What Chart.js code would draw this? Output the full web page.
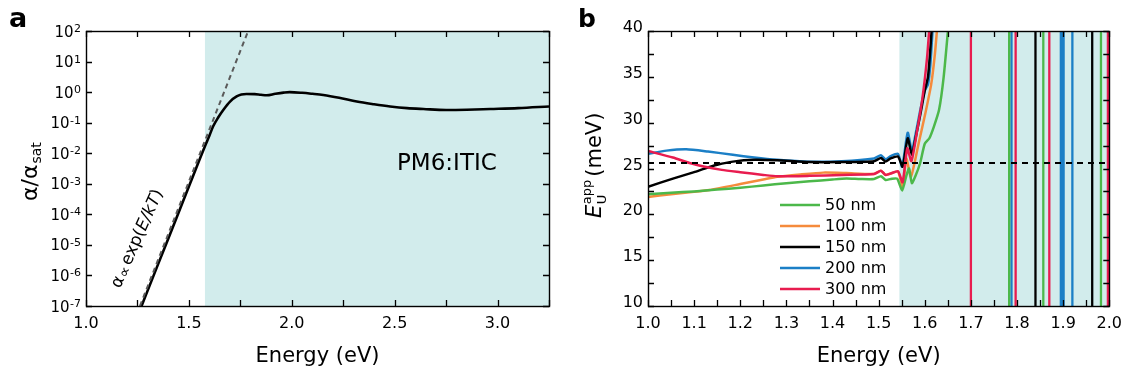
<!DOCTYPE html>
<html><head><meta charset="utf-8">
<script src="https://cdn.jsdelivr.net/npm/chart.js@4.4.1/dist/chart.umd.min.js"></script>
<style>
html,body{margin:0;padding:0;background:#fff;width:1130px;height:377px;overflow:hidden}
.p{position:absolute;top:0;width:565px;height:377px}
#pa{left:0}#pb{left:565px}
</style></head><body>
<div class="p" id="pa"><canvas id="ca" width="565" height="377"></canvas></div>
<div class="p" id="pb"><canvas id="cb" width="565" height="377"></canvas></div>
<script>
// ================= DATA : panel a =================
const energyA = [1.27, 1.35, 1.43, 1.50, 1.55, 1.578, 1.60, 1.618, 1.643, 1.667, 1.70, 1.732, 1.755, 1.78, 1.82, 1.85, 1.878, 1.92, 1.96, 1.99, 2.05, 2.10, 2.153, 2.23, 2.316, 2.40, 2.478, 2.56, 2.64, 2.75, 2.85, 2.964, 3.10, 3.25];
const alphaA  = [1.0e-7, 2.3e-6, 5.2e-5, 8.1e-4, 5.8e-3, 0.017, 0.038, 0.076, 0.15, 0.26, 0.49, 0.72, 0.83, 0.87, 0.86, 0.82, 0.79, 0.88, 0.96, 1.0, 0.95, 0.88, 0.80, 0.65, 0.49, 0.40, 0.34, 0.30, 0.28, 0.26, 0.265, 0.28, 0.30, 0.34];
const fitEnergyA = [1.262, 1.788];
const fitAlphaA  = [1e-7, 1e2];
const xTicksA = [1.0, 1.5, 2.0, 2.5, 3.0];
const yTicksA = [1e2, 1e1, 1e0, 1e-1, 1e-2, 1e-3, 1e-4, 1e-5, 1e-6, 1e-7];
const shadeStartA = 1.578;
const sampleLabelA = 'PM6:ITIC';

// ================= DATA : panel b =================
const thicknessLabels = ['50 nm', '100 nm', '150 nm', '200 nm', '300 nm'];
const energy50  = [1.00,1.05,1.10,1.15,1.20,1.25,1.30,1.35,1.40,1.43,1.46,1.49,1.505,1.515,1.526,1.54,1.551,1.56,1.566,1.572,1.58,1.59,1.60,1.61,1.62,1.631,1.641,1.652];
const eu50      = [22.2,22.35,22.5,22.7,22.9,23.15,23.4,23.6,23.8,23.9,23.85,23.85,24.15,23.75,23.85,23.9,22.6,24.2,25.0,23.4,24.2,25.6,27.7,28.3,29.6,31.4,35.0,41.0];
const energy100 = [1.00,1.05,1.10,1.133,1.20,1.25,1.28,1.33,1.38,1.43,1.49,1.505,1.515,1.526,1.542,1.552,1.56,1.57,1.587,1.602,1.614,1.622,1.628];
const eu100     = [21.9,22.2,22.45,22.65,23.3,23.8,24.1,24.35,24.55,24.5,24.4,24.75,24.3,24.45,24.65,23.0,26.1,24.1,27.8,31.2,34.2,37.5,41.0];
const energy150 = [1.00,1.054,1.10,1.123,1.15,1.184,1.23,1.28,1.35,1.42,1.49,1.505,1.515,1.526,1.542,1.552,1.563,1.572,1.58,1.59,1.60,1.607,1.612,1.616];
const eu150     = [23.0,23.9,24.6,25.0,25.4,25.75,25.95,25.9,25.7,25.7,25.8,26.15,25.75,26.1,26.3,25.2,28.3,26.5,28.3,30.8,33.5,35.0,38.0,41.0];
const energy200 = [1.00,1.04,1.083,1.13,1.184,1.23,1.28,1.35,1.42,1.49,1.505,1.515,1.526,1.542,1.551,1.563,1.572,1.58,1.59,1.60,1.607,1.612,1.618];
const eu200     = [26.6,26.95,27.1,26.85,26.5,26.2,25.95,25.75,25.8,26.1,26.45,26.0,26.35,26.6,25.2,28.9,26.9,28.7,31.3,33.5,34.2,36.3,41.0];
const energy300 = [1.00,1.054,1.09,1.123,1.16,1.20,1.25,1.28,1.35,1.42,1.49,1.505,1.515,1.526,1.542,1.552,1.562,1.571,1.583,1.595,1.605,1.611];
const eu300     = [26.9,26.2,25.6,25.2,24.85,24.6,24.3,24.15,24.2,24.3,24.4,24.75,24.3,24.45,24.7,23.5,27.2,25.8,29.0,32.7,37.1,41.0];
// energies where the apparent Urbach energy diverges (off-scale up and down)
const spikes50  = [1.783, 1.857, 1.982];
const spikes100 = [];
const spikes150 = [1.840, 1.963];
const spikes200 = [1.788, 1.895, 1.898, 1.901, 1.920, 1.999];
const spikes300 = [1.700, 1.797, 1.870, 1.997];
const offScaleHigh = 1000;
const offScaleLow = -1000;
const kTmeV = 25.6;
const xTicksB = [1.0, 1.1, 1.2, 1.3, 1.4, 1.5, 1.6, 1.7, 1.8, 1.9, 2.0];
const yTicksB = [10, 15, 20, 25, 30, 35, 40];
const shadeStartB = 1.545;

// ================= STYLE =================
const FONT = "'DejaVu Sans', sans-serif";
const SHADE = '#d2ecec';
const seriesColors = ['#4cb84a', '#f58b3c', '#000000', '#1b7fc6', '#e81c4f'];
Chart.defaults.font.family = FONT;
Chart.defaults.color = '#000';

function pts(xs, ys) { return xs.map((x, i) => ({x: x, y: ys[i]})); }
function spikePts(es) {
  const out = [];
  es.forEach(e => { out.push({x: e, y: offScaleLow}, {x: e, y: offScaleHigh}, {x: e, y: null}); });
  return out;
}

function frameTicks(chart, xStep, yMinorVals, L) {
  const ctx = chart.ctx, a = chart.chartArea, xs = chart.scales.x, ys = chart.scales.y;
  ctx.save();
  ctx.strokeStyle = '#000';
  ctx.lineWidth = 1.3;
  ctx.beginPath();
  for (let k = 0; ; k++) {
    const v = xs.min + k * xStep;
    if (v > xs.max + 1e-9) break;
    const px = Math.round(xs.getPixelForValue(v)) + 0.5;
    ctx.moveTo(px, a.bottom); ctx.lineTo(px, a.bottom - L);
    ctx.moveTo(px, a.top); ctx.lineTo(px, a.top + L);
  }
  yMinorVals.forEach(v => {
    const py = Math.round(ys.getPixelForValue(v)) + 0.5;
    ctx.moveTo(a.left, py); ctx.lineTo(a.left + L, py);
    ctx.moveTo(a.right, py); ctx.lineTo(a.right - L, py);
  });
  ctx.stroke();
  ctx.lineWidth = 1.4;
  ctx.strokeRect(Math.round(a.left) + 0.5, Math.round(a.top) + 0.5, Math.round(a.right - a.left), Math.round(a.bottom - a.top));
  ctx.restore();
}

function shade(chart, start) {
  const ctx = chart.ctx, a = chart.chartArea, xs = chart.scales.x;
  const x0 = xs.getPixelForValue(start);
  ctx.save();
  ctx.fillStyle = SHADE;
  ctx.fillRect(x0, a.top, a.right - x0, a.bottom - a.top);
  ctx.restore();
}

// ================= PANEL A =================
const pluginA = {
  id: 'panelA',
  beforeDatasetsDraw(chart) { shade(chart, shadeStartA); },
  afterDatasetsDraw(chart) {
    frameTicks(chart, 0.25, yTicksA, 6);
  },
  afterDraw(chart) {
    const ctx = chart.ctx, a = chart.chartArea, ys = chart.scales.y;
    ctx.save();
    ctx.fillStyle = '#000';
    // log tick labels 10^n
    yTicksA.forEach(v => {
      const py = ys.getPixelForValue(v);
      const ex = String(Math.round(Math.log10(v)));
      ctx.font = '11px ' + FONT;
      ctx.textAlign = 'right'; ctx.textBaseline = 'alphabetic';
      const ew = ctx.measureText(ex).width;
      const xr = a.left - 5;
      ctx.fillText(ex, xr, py + 1);
      ctx.font = '15px ' + FONT;
      ctx.fillText('10', xr - ew - 0.5, py + 5.5);
    });
    // y title alpha/alpha_sat
    ctx.translate(37, 201);
    ctx.rotate(-Math.PI / 2);
    ctx.textAlign = 'left';
    ctx.font = '22px ' + FONT;
    ctx.fillText('α/α', 0, 0);
    const w = ctx.measureText('α/α').width;
    ctx.font = '14px ' + FONT;
    ctx.fillText('sat', w + 1, 4);
    ctx.setTransform(1, 0, 0, 1, 0, 0);
    // rotated exp annotation
    ctx.translate(120, 289);
    ctx.rotate(-66 * Math.PI / 180);
    ctx.font = '17px ' + FONT;
    let x = 0;
    ctx.fillText('α', x, 0); x += ctx.measureText('α').width + 1;
    ctx.font = '15px ' + FONT;
    ctx.fillText('∝', x, 2); x += ctx.measureText('∝').width + 2;
    ctx.font = '17px ' + FONT;
    ctx.fillText('exp(', x, 0); x += ctx.measureText('exp(').width;
    ctx.font = 'italic 17px ' + FONT;
    ctx.fillText('E/kT', x, 0); x += ctx.measureText('E/kT').width;
    ctx.font = '17px ' + FONT;
    ctx.fillText(')', x, 0);
    ctx.setTransform(1, 0, 0, 1, 0, 0);
    // sample label
    ctx.font = '23px ' + FONT;
    ctx.fillText(sampleLabelA, 397, 170);
    // panel letter
    ctx.font = 'bold 27px ' + FONT;
    ctx.fillText('a', 9, 27);
    ctx.restore();
  }
};

new Chart(document.getElementById('ca'), {
  type: 'line',
  data: {
    datasets: [
      { label: 'fit', data: pts(fitEnergyA, fitAlphaA), borderColor: '#5a5a5a', borderWidth: 2, borderDash: [5, 4], pointRadius: 0, tension: 0 },
      { label: 'PM6:ITIC', data: pts(energyA, alphaA), borderColor: '#000', borderWidth: 2.6, pointRadius: 0, cubicInterpolationMode: 'monotone' }
    ]
  },
  options: {
    responsive: false, animation: false, events: [],
    layout: { padding: { left: 0, right: 16, top: 31, bottom: 0 } },
    plugins: { legend: { display: false }, tooltip: { enabled: false } },
    scales: {
      x: {
        type: 'linear', min: 1.0, max: 3.25,
        afterBuildTicks: s => { s.ticks = xTicksA.map(v => ({ value: v })); },
        afterFit: s => { s.height = 71; },
        grid: { display: false, drawTicks: false }, border: { display: false },
        ticks: { font: { size: 16 }, padding: 8, color: '#000', callback: v => v.toFixed(1) },
        title: { display: true, text: 'Energy (eV)', font: { size: 21 }, color: '#000', padding: { top: 0, bottom: 8 } }
      },
      y: {
        type: 'logarithmic', min: 1e-7, max: 1e2,
        afterBuildTicks: s => { s.ticks = yTicksA.map(v => ({ value: v })); },
        afterFit: s => { s.width = 86; },
        grid: { display: false, drawTicks: false }, border: { display: false },
        ticks: { display: false }
      }
    }
  },
  plugins: [pluginA]
});

// ================= PANEL B =================
const energiesB = [energy50, energy100, energy150, energy200, energy300];
const valuesB = [eu50, eu100, eu150, eu200, eu300];
const spikesB = [spikes50, spikes100, spikes150, spikes200, spikes300];

const pluginB = {
  id: 'panelB',
  beforeDatasetsDraw(chart) { shade(chart, shadeStartB); },
  afterDatasetsDraw(chart) {
    const vals = [];
    for (let v = 10; v <= 40; v += 2.5) vals.push(v);
    frameTicks(chart, 0.05, vals, 6);
  },
  afterDraw(chart) {
    const ctx = chart.ctx, a = chart.chartArea;
    ctx.save();
    ctx.fillStyle = '#000';
    // legend
    const lx = a.left + 132, ly0 = 205, dy = 21;
    thicknessLabels.forEach((lab, i) => {
      const y = ly0 + i * dy;
      ctx.strokeStyle = seriesColors[i]; ctx.lineWidth = 2.6;
      ctx.beginPath(); ctx.moveTo(lx, y); ctx.lineTo(lx + 40, y); ctx.stroke();
      ctx.font = '16px ' + FONT; ctx.textAlign = 'left'; ctx.textBaseline = 'middle';
      ctx.fillText(lab, lx + 45, y + 1);
    });
    // y title E_U^app (meV)
    ctx.textBaseline = 'alphabetic';
    ctx.translate(36, 218);
    ctx.rotate(-Math.PI / 2);
    ctx.font = 'italic 21px ' + FONT;
    ctx.fillText('E', 0, 0);
    let x = ctx.measureText('E').width + 0.5;
    ctx.font = '13px ' + FONT;
    ctx.fillText('app', x, -10);
    ctx.fillText('U', x, 5);
    x += ctx.measureText('app').width + 3;
    ctx.font = '21px ' + FONT;
    ctx.fillText('(meV)', x, 0);
    ctx.setTransform(1, 0, 0, 1, 0, 0);
    // panel letter
    ctx.font = 'bold 25px ' + FONT;
    ctx.fillText('b', 13, 27);
    ctx.restore();
  }
};

const dsB = [{
  label: 'kT', data: pts([1.0, 2.0], [kTmeV, kTmeV]), borderColor: '#000', borderWidth: 2, borderDash: [6, 5], pointRadius: 0, tension: 0
}];
const drawOrder = [4, 0, 1, 2, 3];
drawOrder.forEach(i => {
  dsB.push({ label: thicknessLabels[i], data: pts(energiesB[i], valuesB[i]), borderColor: seriesColors[i], borderWidth: 2.5, pointRadius: 0, tension: 0.2 });
});
drawOrder.forEach(i => {
  if (spikesB[i].length) dsB.push({ label: thicknessLabels[i] + ' divergence', data: spikePts(spikesB[i]), borderColor: seriesColors[i], borderWidth: 2.3, pointRadius: 0, tension: 0, spanGaps: false });
});

new Chart(document.getElementById('cb'), {
  type: 'line',
  data: { datasets: dsB },
  options: {
    responsive: false, animation: false, events: [],
    layout: { padding: { left: 0, right: 19, top: 31, bottom: 0 } },
    plugins: { legend: { display: false }, tooltip: { enabled: false } },
    scales: {
      x: {
        type: 'linear', min: 1.0, max: 2.0,
        afterBuildTicks: s => { s.ticks = xTicksB.map(v => ({ value: v })); },
        afterFit: s => { s.height = 71; },
        grid: { display: false, drawTicks: false }, border: { display: false },
        ticks: { font: { size: 16 }, padding: 8, color: '#000', callback: v => v.toFixed(1) },
        title: { display: true, text: 'Energy (eV)', font: { size: 21 }, color: '#000', padding: { top: 0, bottom: 8 } }
      },
      y: {
        type: 'linear', min: 10, max: 40,
        afterBuildTicks: s => { s.ticks = yTicksB.map(v => ({ value: v })); },
        afterFit: s => { s.width = 83; },
        grid: { display: false, drawTicks: false }, border: { display: false },
        ticks: { font: { size: 16 }, padding: 5, labelOffset: -3, color: '#000', callback: v => String(v) }
      }
    }
  },
  plugins: [pluginB]
});
</script>
</body></html>
